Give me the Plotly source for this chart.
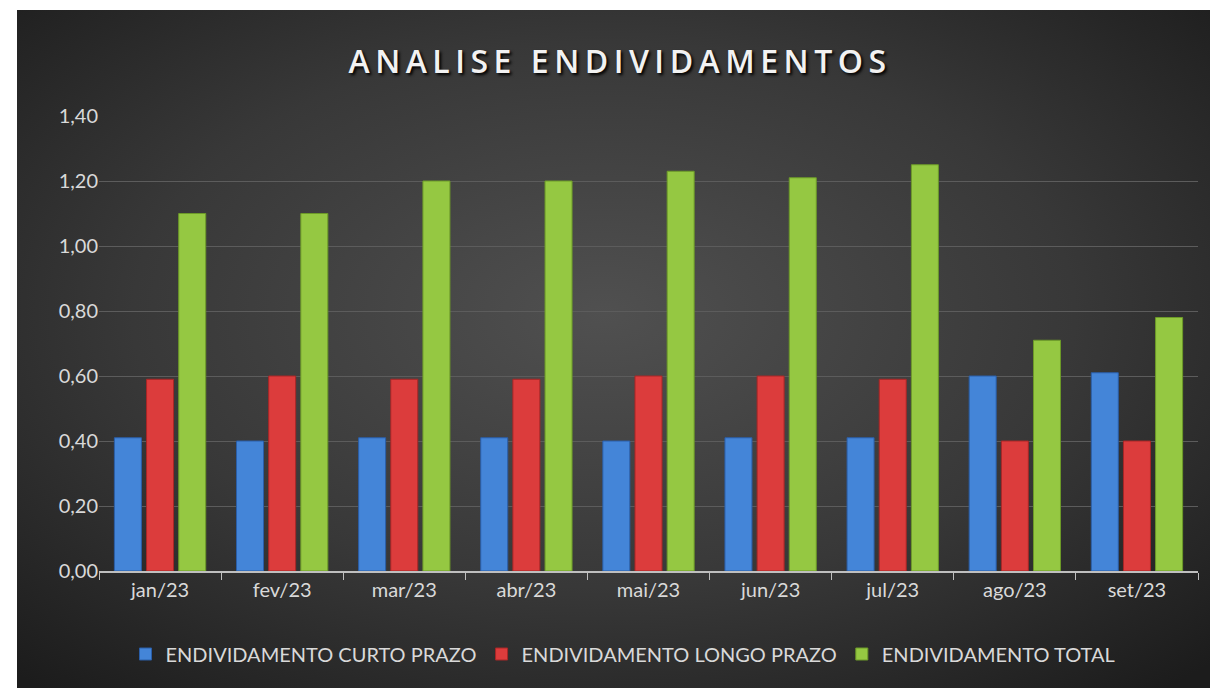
import base64
import plotly.graph_objects as go

months = ["jan/23", "fev/23", "mar/23", "abr/23", "mai/23", "jun/23", "jul/23", "ago/23", "set/23"]
curto_prazo = [0.41, 0.40, 0.41, 0.41, 0.40, 0.41, 0.41, 0.60, 0.61]
longo_prazo = [0.59, 0.60, 0.59, 0.59, 0.60, 0.60, 0.59, 0.40, 0.40]
total = [1.10, 1.10, 1.20, 1.20, 1.23, 1.21, 1.25, 0.71, 0.78]
y_ticks = [0.0, 0.2, 0.4, 0.6, 0.8, 1.0, 1.2, 1.4]

W, H = 1210, 688
ML, MT = 99, 116
PB, PR = 571, 1198
MB, MR = H - PB, W - PR
PW, PH = PR - ML, PB - MT

BGX, BGY = 17, 10
BGW, BGH = W - BGX + 30, H - BGY + 30
svg = f'''<svg xmlns="http://www.w3.org/2000/svg" width="{BGW}" height="{BGH}" viewBox="0 0 {BGW} {BGH}">
<defs><radialGradient id="g" cx="48%" cy="43%" r="70%">
<stop offset="0%" stop-color="#505050"/><stop offset="55%" stop-color="#383838"/><stop offset="100%" stop-color="#1c1c1c"/>
</radialGradient></defs><rect width="{BGW}" height="{BGH}" fill="url(#g)"/></svg>'''
bg = "data:image/svg+xml;base64," + base64.b64encode(svg.encode()).decode()

font = "Lato, 'Open Sans', sans-serif"
fig = go.Figure()
series = [
    ("ENDIVIDAMENTO CURTO PRAZO", curto_prazo, "#4485d8", "#2a5ea8"),
    ("ENDIVIDAMENTO LONGO PRAZO", longo_prazo, "#dc3c3c", "#a82626"),
    ("ENDIVIDAMENTO TOTAL", total, "#95c842", "#6c9a28"),
]
for name, vals, col, edge in series:
    fig.add_trace(go.Bar(x=months, y=vals, name=name,
                         marker=dict(color=col, line=dict(color=edge, width=1))))

fig.update_layout(
    width=W, height=H,
    margin=dict(l=ML, r=MR, t=MT, b=MB),
    paper_bgcolor="#1c1c1c", plot_bgcolor="rgba(0,0,0,0)",
    separators=",.",
    barmode="group", bargap=0.21, bargroupgap=0.16,
    title=dict(text="ANALISE ENDIVIDAMENTOS", x=620 / W, xanchor="center",
               y=1 - 62 / H, yanchor="middle",
               font=dict(family="'Open Sans', sans-serif", size=32, weight=600, color="#f2f2f2",
                         shadow="2px 2px 3px #000")),
    xaxis=dict(showgrid=False, showline=True, linecolor="#bfbfbf", linewidth=1.5,
               ticks="outside", tickson="boundaries", ticklen=7, tickcolor="#bfbfbf",
               tickfont=dict(family=font, size=20, color="#d9d9d9")),
    yaxis=dict(range=[0, 1.4], tickvals=y_ticks, tickformat=".2f",
               showgrid=True, gridcolor="#5c5c5c", gridwidth=1.2, zeroline=False,
               tickfont=dict(family=font, size=20, color="#d9d9d9"), ticks=""),
    legend=dict(orientation="h", x=(623 - ML) / PW, xanchor="center",
                y=(PB - 654) / PH, yanchor="middle",
                font=dict(family=font, size=20, color="#d9d9d9"), bgcolor="rgba(0,0,0,0)",
                itemwidth=30),
    images=[dict(source=bg, xref="paper", yref="paper",
                 x=(BGX - ML) / PW, y=(PB - BGY) / PH, sizex=BGW / PW, sizey=BGH / PH,
                 xanchor="left", yanchor="top", sizing="stretch", layer="below")],
    shapes=[
        dict(type="rect", xref="paper", yref="paper", layer="below",
             x0=-ML / PW - 0.01, x1=(BGX - ML) / PW, y0=-MB / PH - 0.01, y1=(PB + 10) / PH,
             fillcolor="white", line=dict(width=0)),
        dict(type="rect", xref="paper", yref="paper", layer="below",
             x0=-ML / PW - 0.01, x1=1 + MR / PW + 0.01, y0=(PB - BGY) / PH, y1=(PB + 10) / PH,
             fillcolor="white", line=dict(width=0)),
    ],
    showlegend=True,
)

post = (
    "document.body.style.margin='0';"
    "document.body.style.overflow='hidden';"
    "var t=document.querySelector('.gtitle');if(t){t.style.letterSpacing='5.5px';}"
)
fig.write_html("out.html", post_script=post, config={"displayModeBar": False})
